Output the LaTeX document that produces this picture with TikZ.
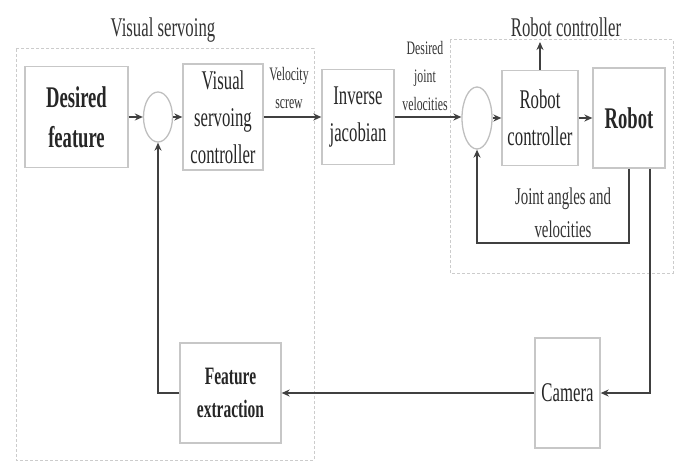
\documentclass[tikz,border=0pt]{standalone}
\usepackage{fontspec}
\setmainfont[FakeStretch=0.62]{Liberation Serif}
\usetikzlibrary{arrows.meta,shapes.geometric,calc}
\tikzset{
  every picture/.style={>={Stealth[length=8pt,width=7pt]}},
  blk/.style={draw=black!22,line width=1.3pt,align=center,inner sep=2pt,text=black!85},
  sumnode/.style={ellipse,draw=black!25,line width=1.3pt,inner sep=0pt},
  grp/.style={draw=black!20,line width=1pt,dash pattern=on 3pt off 2pt},
  sig/.style={->,draw=black!75,line width=1.8pt},
  lbl/.style={align=center,text=black!80,inner sep=0pt}
}
\newcommand{\blkfont}{\fontsize{27}{37}\selectfont}
\newcommand{\boldfont}{\fontsize{30}{40}\selectfont\bfseries}
\newcommand{\smallfont}{\fontsize{19}{28}\selectfont}

\begin{document}
\begin{tikzpicture}[x=1pt,y=-1pt]
  \useasboundingbox (0,0) rectangle (676,462);
  % group frames
  \draw[grp] (16,49) rectangle (314,460);
  \draw[grp] (450,40) rectangle (673,273);
  \node[lbl,font=\fontsize{27}{32}\selectfont] (vstitle) at (163,30) {Visual servoing};
  \node[lbl,font=\fontsize{27}{32}\selectfont] (rctitle) at (566,27) {Robot controller};

  % blocks
  \node[blk,minimum width=103pt,minimum height=101pt,font=\boldfont] (desired) at (76.5,117) {Desired\\feature};
  \node[sumnode,minimum width=29pt,minimum height=50pt] (sum1) at (158,117) {};
  \node[blk,minimum width=80pt,minimum height=106pt,font=\blkfont] (vsc) at (223,117) {Visual\\servoing\\controller};
  \node[blk,minimum width=72pt,minimum height=95pt,font=\blkfont] (ij) at (358,117) {Inverse\\jacobian};
  \node[sumnode,minimum width=30pt,minimum height=62pt] (sum2) at (477,118) {};
  \node[blk,minimum width=76pt,minimum height=95pt,font=\blkfont] (rc) at (540,118) {Robot\\controller};
  \node[blk,minimum width=72pt,minimum height=100pt,font=\boldfont] (robot) at (629,118) {Robot};
  \node[blk,minimum width=65pt,minimum height=110pt,font=\blkfont] (camera) at (567.5,393) {Camera};
  \node[blk,minimum width=101pt,minimum height=100pt,font=\fontsize{25}{33}\selectfont\bfseries] (feat) at (230.5,393) {Feature\\extraction};
  \coordinate (rcout) at (540,42);

  % signals
  \draw[sig] (desired) -- (sum1);
  \draw[sig] (sum1) -- (vsc);
  \draw[sig] (vsc) -- (ij);
  \draw[sig] (ij.east) -- (ij.east -| sum2.west);
  \draw[sig] (sum2) -- (rc);
  \draw[sig] (rc) -- (robot);
  \draw[sig] (rc) -- (rcout);
  \draw[sig] (robot.south) -- (robot.south |- 0,243) -| (sum2.south);
  \draw[sig] (robot.south -| 650,0) |- (camera.east);
  \draw[sig] (camera) -- (feat);
  \draw[sig] (feat.west) -| (sum1.south);

  % signal labels
  \node[lbl,font=\smallfont] (vel) at (289,88) {Velocity\\screw};
  \node[lbl,font=\smallfont] (djv) at (425,76) {Desired\\joint\\velocities};
  \node[lbl,font=\fontsize{24}{33}\selectfont] (jav) at (563,213) {Joint angles and\\velocities};
\end{tikzpicture}
\end{document}
